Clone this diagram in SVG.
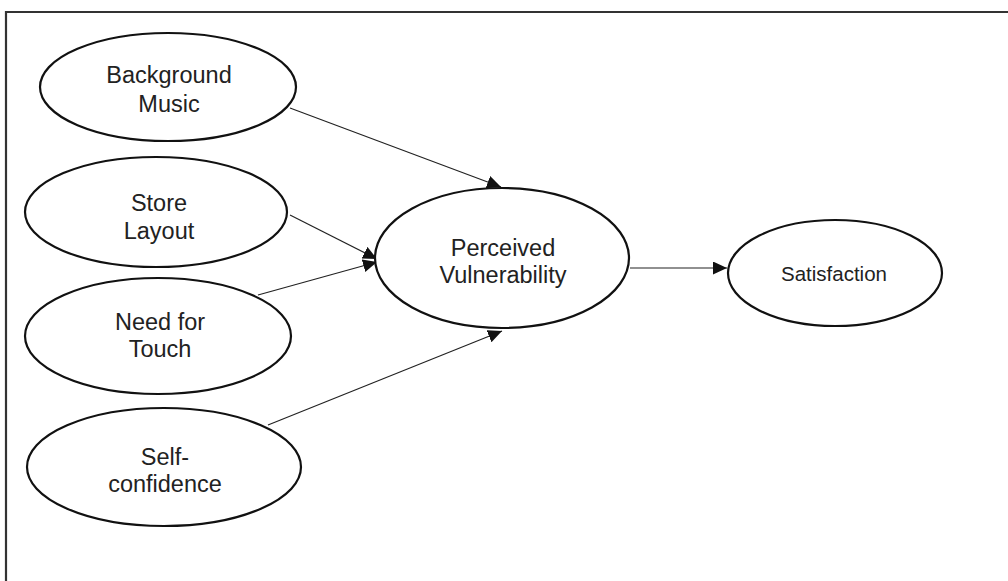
<svg xmlns="http://www.w3.org/2000/svg" width="1008" height="581" viewBox="0 0 1008 581">
<style>
.node ellipse{fill:#fff;stroke:#111;stroke-width:2.2}
.node text{font-family:"Liberation Sans",Arial,sans-serif;font-size:23.5px;fill:#222;text-anchor:middle}
.edge{stroke:#222;stroke-width:1.2;fill:none;marker-end:url(#arr)}
.frame{stroke:#333;stroke-width:2.2;fill:none}
</style>
<defs>
<marker id="arr" markerUnits="userSpaceOnUse" markerWidth="16" markerHeight="14" refX="14" refY="6.5" orient="auto">
<path d="M0,0 L14,6.5 L0,13 Z" fill="#111"/>
</marker>
</defs>
<rect width="1008" height="581" fill="#fff"/>
<path class="frame" d="M6,581 V12 H1008"/>
<g id="connectors">
<line class="edge" x1="290" y1="108" x2="501" y2="187"/>
<line class="edge" x1="290" y1="215" x2="377" y2="259"/>
<line class="edge" x1="258" y1="295" x2="377" y2="262"/>
<line class="edge" x1="268" y1="425" x2="502" y2="331"/>
<line class="edge" x1="630" y1="268" x2="727" y2="268"/>
</g>
<g id="background-music" class="node">
<ellipse cx="168" cy="87" rx="128" ry="54"/>
<text x="169" y="83">Background</text>
<text x="169" y="112">Music</text>
</g>
<g id="store-layout" class="node">
<ellipse cx="156" cy="212" rx="131" ry="55"/>
<text x="159" y="211">Store</text>
<text x="159" y="239">Layout</text>
</g>
<g id="need-for-touch" class="node">
<ellipse cx="158" cy="336" rx="133" ry="58"/>
<text x="160" y="330">Need for</text>
<text x="160" y="357">Touch</text>
</g>
<g id="self-confidence" class="node">
<ellipse cx="164" cy="467" rx="137" ry="59"/>
<text x="165" y="465">Self-</text>
<text x="165" y="492">confidence</text>
</g>
<g id="perceived-vulnerability" class="node">
<ellipse cx="502" cy="258" rx="127" ry="70"/>
<text x="503" y="256">Perceived</text>
<text x="503" y="283">Vulnerability</text>
</g>
<g id="satisfaction" class="node">
<ellipse cx="835" cy="273" rx="107" ry="53"/>
<text x="834" y="281" style="font-size:20.5px">Satisfaction</text>
</g>
</svg>
